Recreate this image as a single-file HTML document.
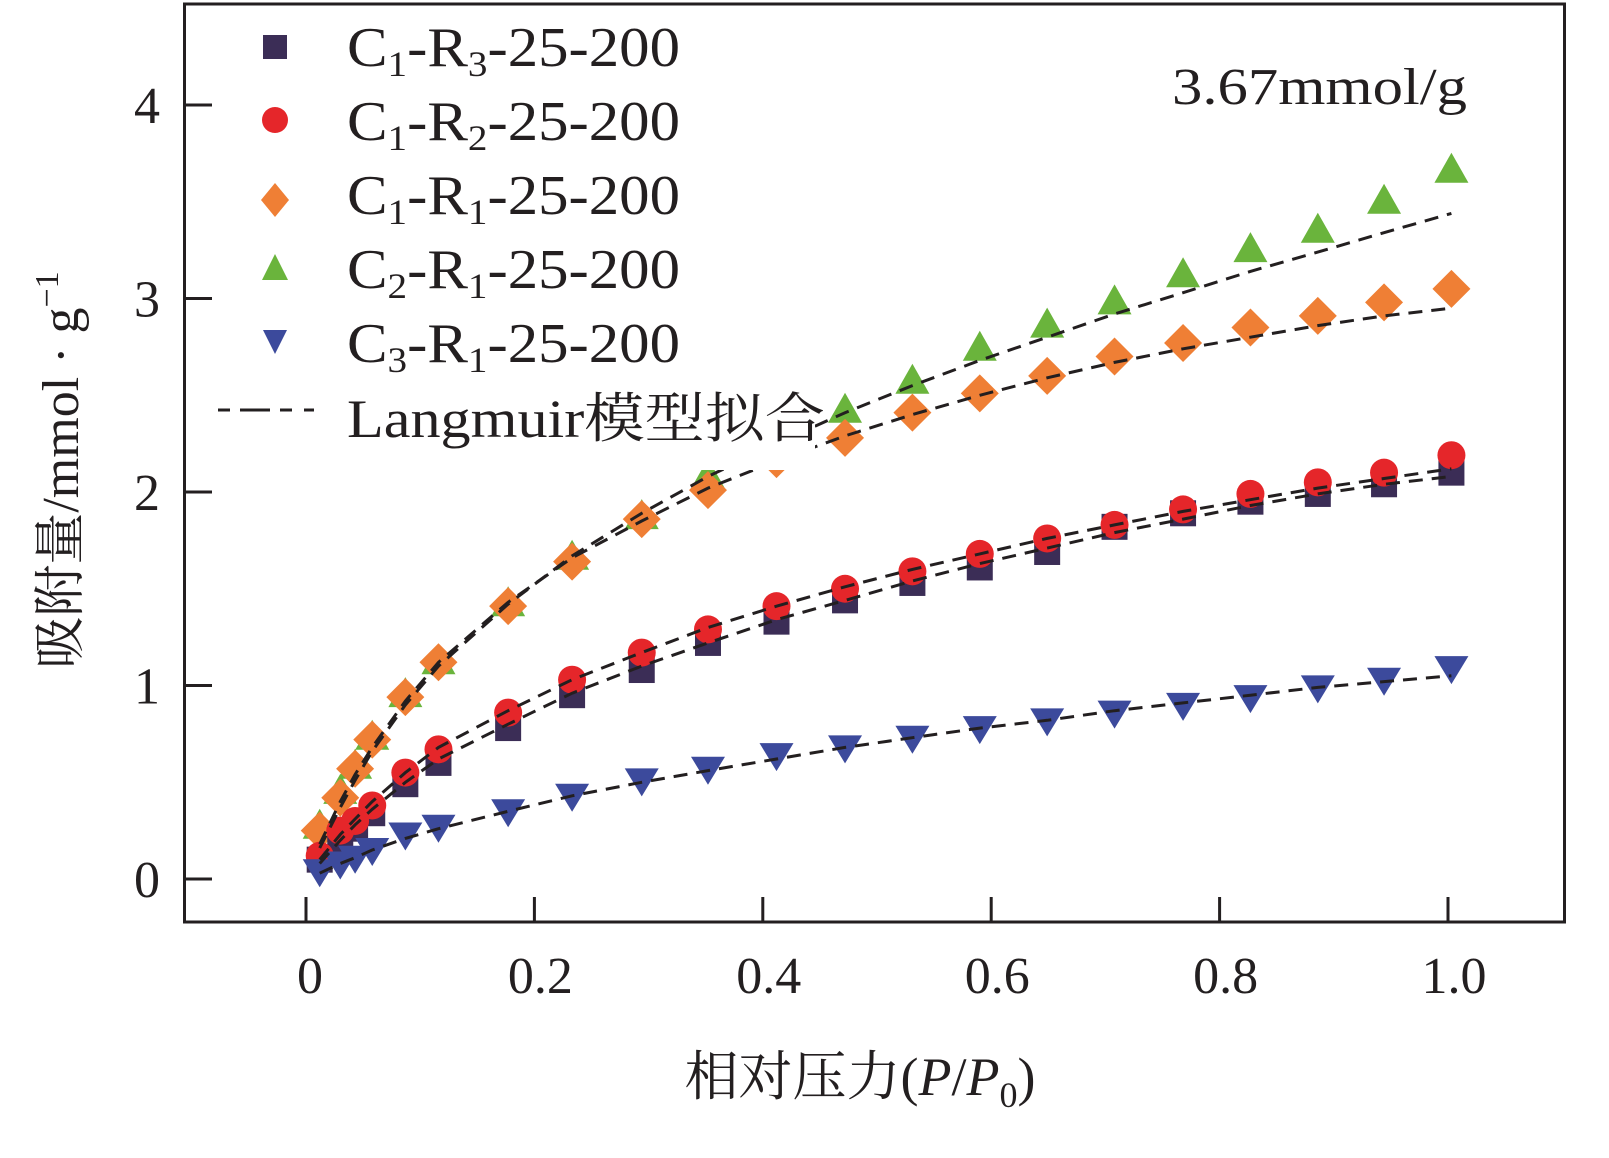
<!DOCTYPE html>
<html><head><meta charset="utf-8"><style>
html,body{margin:0;padding:0;background:#fff;width:1609px;height:1158px;overflow:hidden}
svg text{font-family:"Liberation Serif","Noto Serif CJK SC",serif;fill:#231f20}
</style></head><body>
<svg id="chart" width="1609" height="1158" viewBox="0 0 1609 1158" xmlns="http://www.w3.org/2000/svg">
<g id="marks"></g>
<g id="fits"></g>
<rect x="190" y="8" width="625" height="462" fill="#fff"/>
<rect x="184.5" y="4" width="1380" height="918" fill="none" stroke="#231f20" stroke-width="3"/>
<g id="axes"></g>
<g id="legend">
  <rect x="263" y="35" width="24" height="24" fill="#3b2d56"/>
  <text x="347" y="66" font-size="56" textLength="333" lengthAdjust="spacingAndGlyphs">C<tspan font-size="36" dy="10">1</tspan><tspan dy="-10">-R</tspan><tspan font-size="36" dy="10">3</tspan><tspan dy="-10">-25-200</tspan></text>
  <circle cx="275" cy="120" r="13" fill="#e5262a"/>
  <text x="347" y="140" font-size="56" textLength="333" lengthAdjust="spacingAndGlyphs">C<tspan font-size="36" dy="10">1</tspan><tspan dy="-10">-R</tspan><tspan font-size="36" dy="10">2</tspan><tspan dy="-10">-25-200</tspan></text>
  <polygon points="275,183 289,200 275,217 261,200" fill="#ef7f35"/>
  <text x="347" y="214" font-size="56" textLength="333" lengthAdjust="spacingAndGlyphs">C<tspan font-size="36" dy="10">1</tspan><tspan dy="-10">-R</tspan><tspan font-size="36" dy="10">1</tspan><tspan dy="-10">-25-200</tspan></text>
  <polygon points="275,254 288,280 262,280" fill="#6ab43c"/>
  <text x="347" y="288" font-size="56" textLength="333" lengthAdjust="spacingAndGlyphs">C<tspan font-size="36" dy="10">2</tspan><tspan dy="-10">-R</tspan><tspan font-size="36" dy="10">1</tspan><tspan dy="-10">-25-200</tspan></text>
  <polygon points="263,330 287,330 275,354" fill="#3c4a9c"/>
  <text x="347" y="362" font-size="56" textLength="333" lengthAdjust="spacingAndGlyphs">C<tspan font-size="36" dy="10">3</tspan><tspan dy="-10">-R</tspan><tspan font-size="36" dy="10">1</tspan><tspan dy="-10">-25-200</tspan></text>
  <line x1="218" y1="410" x2="333" y2="410" stroke="#231f20" stroke-width="3" stroke-dasharray="12,10,30,10,12"/>
  <text x="347" y="437" font-size="54" textLength="478" lengthAdjust="spacingAndGlyphs">Langmuir模型拟合</text>
</g>
<text x="1467" y="104" font-size="52" text-anchor="end" textLength="295" lengthAdjust="spacingAndGlyphs">3.67mmol/g</text>
<text transform="translate(78,470) rotate(-90)" font-size="52" text-anchor="middle">吸附量/mmol · g<tspan font-size="34" dy="-20">−1</tspan></text>
<text x="860" y="1095" font-size="54" text-anchor="middle">相对压力(<tspan font-style="italic">P</tspan>/<tspan font-style="italic">P</tspan><tspan font-size="36" dy="12">0</tspan><tspan dy="-12">)</tspan></text>
</svg>
<script>
const xVals=[0.012,0.03,0.043,0.058,0.087,0.116,0.177,0.233,0.294,0.352,0.412,0.472,0.531,0.59,0.649,0.708,0.768,0.827,0.886,0.944,1.003];
const c1r3=[0.10,0.18,0.26,0.34,0.49,0.60,0.78,0.95,1.08,1.22,1.33,1.44,1.53,1.61,1.69,1.82,1.89,1.95,1.99,2.04,2.10];
const c1r2=[0.12,0.25,0.30,0.38,0.55,0.67,0.86,1.03,1.17,1.29,1.41,1.50,1.59,1.68,1.76,1.83,1.91,1.99,2.05,2.10,2.19];
const c1r1=[0.25,0.42,0.57,0.72,0.94,1.12,1.41,1.64,1.86,2.01,2.17,2.28,2.41,2.51,2.60,2.70,2.77,2.85,2.91,2.98,3.05];
const c2r1=[0.27,0.45,0.58,0.73,0.95,1.12,1.42,1.66,1.87,2.08,2.20,2.42,2.57,2.74,2.86,2.98,3.12,3.25,3.35,3.50,3.66];
const c3r1=[0.04,0.08,0.11,0.15,0.23,0.27,0.35,0.43,0.51,0.57,0.64,0.68,0.73,0.78,0.82,0.86,0.90,0.94,0.99,1.03,1.09];
const fitC1r3=[0.08,0.20,0.28,0.36,0.50,0.62,0.80,0.96,1.10,1.22,1.34,1.44,1.54,1.63,1.71,1.79,1.86,1.93,1.99,2.04,2.08];
const fitC1r2=[0.10,0.23,0.31,0.40,0.55,0.68,0.87,1.03,1.17,1.30,1.41,1.51,1.60,1.68,1.76,1.83,1.90,1.96,2.02,2.07,2.12];
const fitC1r1=[0.18,0.40,0.54,0.68,0.92,1.12,1.43,1.66,1.85,2.02,2.16,2.29,2.40,2.50,2.59,2.67,2.74,2.80,2.86,2.91,2.95];
const fitC2r1=[0.16,0.37,0.51,0.66,0.90,1.10,1.42,1.67,1.89,2.08,2.25,2.41,2.55,2.68,2.80,2.92,3.03,3.14,3.24,3.34,3.44];
const fitC3r1=[0.03,0.08,0.11,0.15,0.21,0.26,0.35,0.43,0.50,0.56,0.62,0.68,0.73,0.78,0.82,0.87,0.91,0.95,0.99,1.02,1.05];
const xTicks=[0,0.2,0.4,0.6,0.8,1.0];
const xTickLabels=["0","0.2","0.4","0.6","0.8","1.0"];
const yTicks=[0,1,2,3,4];
const yTickLabels=["0","1","2","3","4"];
const NS="http://www.w3.org/2000/svg";
function sx(v){return 306+v*1142;}
function sy(v){return 879-v*193.5;}
function mk(tag,attrs,parent){const e=document.createElementNS(NS,tag);for(const k in attrs)e.setAttribute(k,attrs[k]);parent.appendChild(e);return e;}
const marks=document.getElementById('marks'),fits=document.getElementById('fits'),axes=document.getElementById('axes');
const series=[
 {name:'c2-r1',vals:c2r1,color:'#6ab43c',shape:'tri'},
 {name:'c1-r1',vals:c1r1,color:'#ef7f35',shape:'dia'},
 {name:'c1-r3',vals:c1r3,color:'#3b2d56',shape:'sq'},
 {name:'c1-r2',vals:c1r2,color:'#e5262a',shape:'circ'},
 {name:'c3-r1',vals:c3r1,color:'#3c4a9c',shape:'inv'}];
series.forEach(s=>{
 s.vals.forEach((v,i)=>{
  const x=sx(xVals[i]),y=sy(v);let e;
  if(s.shape==='sq')e=mk('rect',{x:x-13,y:y-13,width:26,height:26,fill:s.color},marks);
  else if(s.shape==='circ')e=mk('circle',{cx:x,cy:y,r:14,fill:s.color},marks);
  else if(s.shape==='dia')e=mk('polygon',{points:`${x},${y-19} ${x+19},${y} ${x},${y+19} ${x-19},${y}`,fill:s.color},marks);
  else if(s.shape==='tri')e=mk('polygon',{points:`${x},${y-18} ${x+17},${y+12} ${x-17},${y+12}`,fill:s.color},marks);
  else e=mk('polygon',{points:`${x-17},${y-12} ${x+17},${y-12} ${x},${y+16}`,fill:s.color},marks);
  
  
 });
});
[['c1-r3',fitC1r3],['c1-r2',fitC1r2],['c1-r1',fitC1r1],['c2-r1',fitC2r1],['c3-r1',fitC3r1]].forEach(([n,f])=>{
 const d=f.map((v,i)=>(i?'L':'M')+sx(xVals[i]).toFixed(1)+','+sy(v).toFixed(1)).join(' ');
 const p=mk('path',{d:d,fill:'none',stroke:'#231f20','stroke-width':3,'stroke-dasharray':'14,9'},fits);
 
 
});
xTicks.forEach((t,i)=>{
 const l=mk('line',{x1:sx(t),x2:sx(t),y1:922,y2:897,stroke:'#231f20','stroke-width':3},axes);
 
 
 const tx=mk('text',{x:sx(t)+(i===0?4:6),y:993,'font-size':52,'text-anchor':'middle'},axes);
 tx.textContent=xTickLabels[i];
 
 
});
yTicks.forEach((t,i)=>{
 const l=mk('line',{x1:184,x2:212,y1:sy(t),y2:sy(t),stroke:'#231f20','stroke-width':3},axes);
 
 
 const tx=mk('text',{x:160,y:sy(t)+18,'font-size':52,'text-anchor':'end'},axes);
 tx.textContent=yTickLabels[i];
 
 
});
</script>
</body></html>
